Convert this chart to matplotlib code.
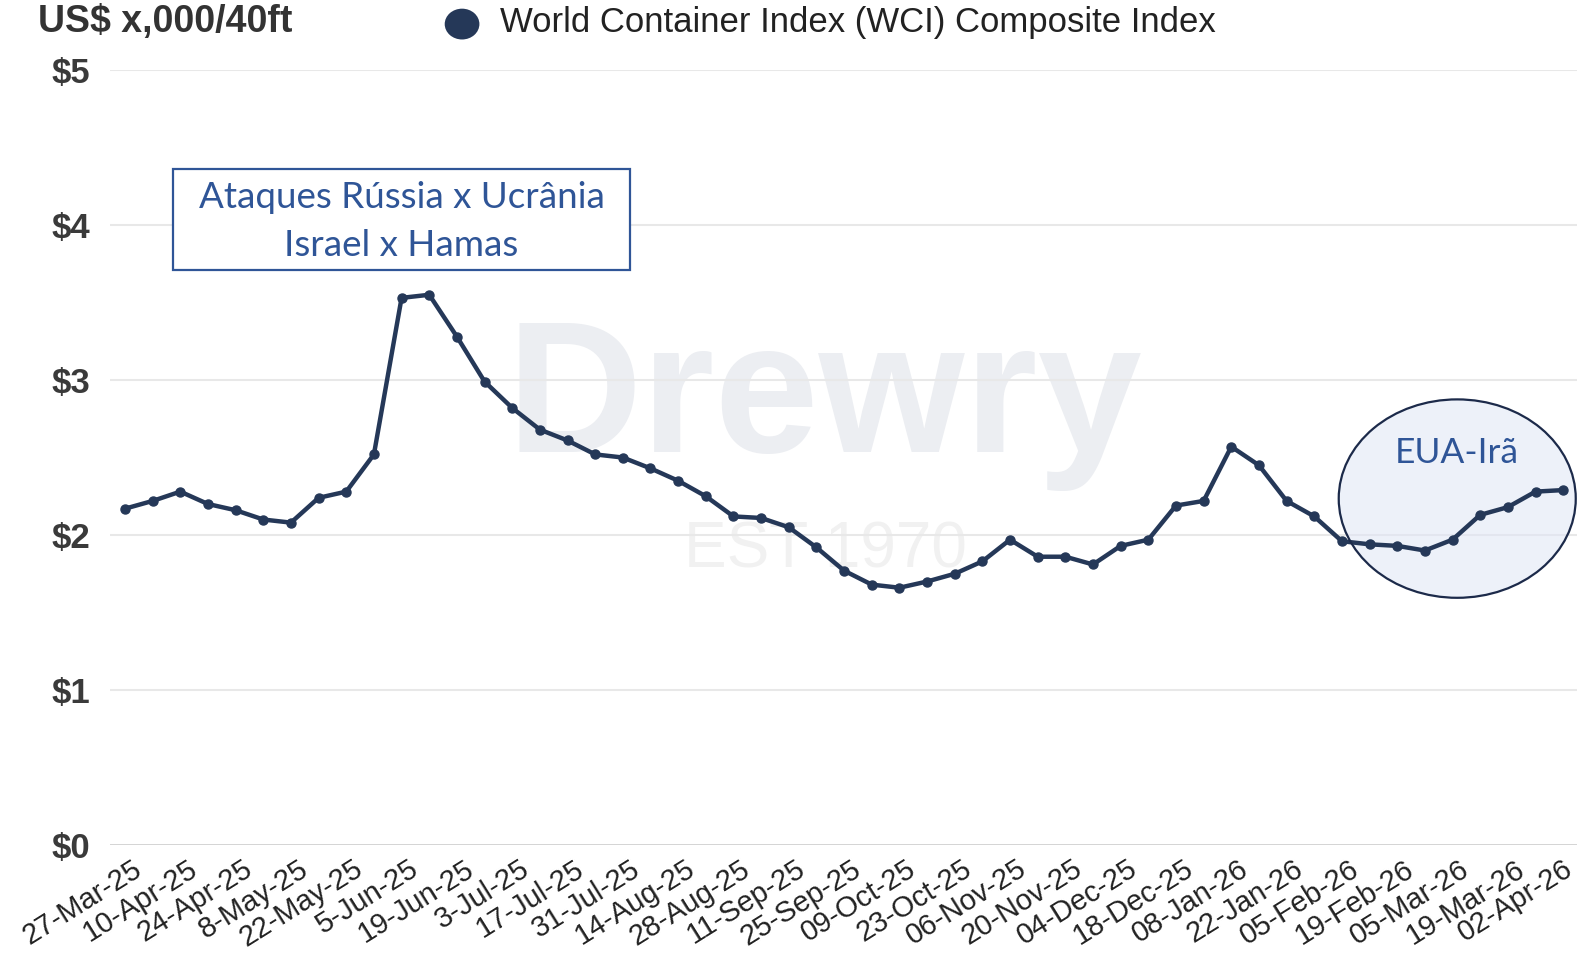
import numpy as np
import matplotlib
matplotlib.use("Agg")
import matplotlib.pyplot as plt
from matplotlib.patches import Ellipse, Rectangle
from matplotlib.transforms import ScaledTranslation

plt.rcParams['font.family'] = ['Liberation Sans', 'DejaVu Sans']

# Weekly WCI composite, US$ thousand per 40ft
wci = [2.17, 2.22, 2.28, 2.20, 2.16, 2.10, 2.08, 2.24, 2.28, 2.52,
       3.53, 3.55, 3.28, 2.99, 2.82, 2.68, 2.61, 2.52, 2.50, 2.43,
       2.35, 2.25, 2.12, 2.11, 2.05, 1.92, 1.77, 1.68, 1.66, 1.70,
       1.75, 1.83, 1.97, 1.86, 1.86, 1.81, 1.93, 1.97, 2.19, 2.22,
       2.57, 2.45, 2.22, 2.12, 1.96, 1.94, 1.93, 1.90, 1.97, 2.13,
       2.18, 2.28, 2.29]
# labels shown every second week
date_labels = ['27-Mar-25', '10-Apr-25', '24-Apr-25', '8-May-25', '22-May-25',
               '5-Jun-25', '19-Jun-25', '3-Jul-25', '17-Jul-25', '31-Jul-25',
               '14-Aug-25', '28-Aug-25', '11-Sep-25', '25-Sep-25', '09-Oct-25',
               '23-Oct-25', '06-Nov-25', '20-Nov-25', '04-Dec-25', '18-Dec-25',
               '08-Jan-26', '22-Jan-26', '05-Feb-26', '19-Feb-26', '05-Mar-26',
               '19-Mar-26', '02-Apr-26']
y_ticks = [0, 1, 2, 3, 4, 5]
y_labels = ['$0', '$1', '$2', '$3', '$4', '$5']

navy = '#253858'
blue = '#2f5597'
W, H = 1577, 963

fig = plt.figure(figsize=(W / 100, H / 100), dpi=100)
ax = fig.add_axes([0.0698, 0.1225, 0.9302, 0.8048])

x = np.arange(len(wci))

# watermark
ax.text(0.487, 0.57, 'Drewry', transform=ax.transAxes, ha='center', va='center',
        fontsize=135, fontweight='bold', color='#eceef2', zorder=0)
ax.text(0.488, 0.38, 'EST 1970', transform=ax.transAxes, ha='center', va='center',
        fontsize=46, color='#f1f1f1', zorder=0)

for t in y_ticks[1:]:
    ax.axhline(t, color='#e8e8e8', lw=1.5, zorder=1)
ax.axhline(0, color='#c8c8c8', lw=1.8, zorder=1)

ell_c = (48.17, 2.235)
ax.add_patch(Ellipse(ell_c, 8.57, 1.28, facecolor='#dfe6f5', alpha=0.55,
                     edgecolor='none', zorder=2))
ax.add_patch(Ellipse(ell_c, 8.57, 1.28, facecolor='none',
                     edgecolor='#1c2a4a', lw=1.6, zorder=4))

ax.plot(x, wci, '-o', color=navy, lw=3.2, ms=6.5, zorder=3)

ax.text(48.17, 2.53, 'EUA-Irã', ha='center', va='center', fontsize=25.5,
        family='Lato', color=blue, zorder=5)

# annotation box (pixel layout from the top-left corner)
bx0, by0, bx1, by1 = 173, 169, 630, 270
fig.add_artist(Rectangle((bx0 / W, 1 - by1 / H), (bx1 - bx0) / W, (by1 - by0) / H,
                         transform=fig.transFigure, facecolor='white',
                         edgecolor=blue, lw=1.6, zorder=5))
fig.text((bx0 + bx1) / 2 / W, 1 - 198 / H, 'Ataques Rússia x Ucrânia', ha='center',
         va='center', fontsize=26.5, family='Lato', color=blue, zorder=6)
fig.text((bx0 + bx1) / 2 / W, 1 - 246 / H, 'Israel x Hamas', ha='center',
         va='center', fontsize=26.5, family='Lato', color=blue, zorder=6)

ax.set_ylim(0, 5)
ax.set_xlim(-0.54, 52.5)
ax.set_yticks(y_ticks)
ax.set_yticklabels(y_labels, fontsize=25, fontweight='bold', color='#3a3a3a')
ax.set_xticks(x[::2])
ax.set_xticklabels(date_labels, rotation=32, ha='right', rotation_mode='anchor',
                   fontsize=21, color='#222222')
ax.tick_params(length=0, pad=7)
ax.tick_params(axis='y', pad=14)
shift = ScaledTranslation(0.07, 0, fig.dpi_scale_trans)
for lab in ax.get_xticklabels()[:-1]:
    lab.set_transform(lab.get_transform() + shift)
for s in ax.spines.values():
    s.set_visible(False)

fig.text(0.024, 0.977, 'US$ x,000/40ft', fontsize=27, fontweight='bold',
         color='#333333', va='center', ha='left')
fig.add_artist(Ellipse((0.293, 0.975), 0.022, 0.032, transform=fig.transFigure,
                       facecolor=navy, edgecolor='none'))
fig.text(0.317, 0.977, 'World Container Index (WCI) Composite Index', fontsize=25,
         color='#222222', va='center', ha='left')

fig.savefig('out.png', dpi=100)
